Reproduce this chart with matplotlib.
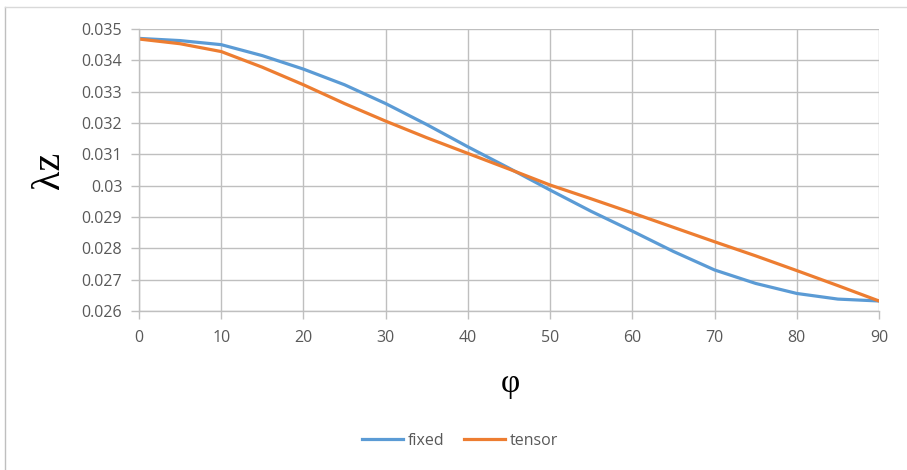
import matplotlib
matplotlib.use("Agg")
import matplotlib.pyplot as plt
from matplotlib.lines import Line2D

phi = [0, 5, 10, 15, 20, 25, 30, 35, 40, 45, 50, 55, 60, 65, 70, 75, 80, 85, 90]
fixed = [0.03470, 0.03463, 0.03450, 0.03415, 0.03372, 0.03322, 0.03262, 0.03195, 0.03124,
         0.03056, 0.02986, 0.02918, 0.02855, 0.02790, 0.02731, 0.02688, 0.02656, 0.02638, 0.02632]
tensor = [0.03468, 0.03453, 0.03428, 0.03378, 0.03322, 0.03262, 0.03206, 0.03153, 0.03103,
          0.03053, 0.03002, 0.02958, 0.02913, 0.02867, 0.02821, 0.02776, 0.02729, 0.02681, 0.02632]
xticks = [0, 10, 20, 30, 40, 50, 60, 70, 80, 90]
yticks = [0.026, 0.027, 0.028, 0.029, 0.03, 0.031, 0.032, 0.033, 0.034, 0.035]
ytick_labels = ["0.026", "0.027", "0.028", "0.029", "0.03", "0.031", "0.032", "0.033", "0.034", "0.035"]

fig = plt.figure(figsize=(9.07, 4.70), dpi=100)
ax = fig.add_axes([139/907, 1-311/470, (879-139)/907, (311-29)/470])

tick_font = dict(family=["Open Sans", "DejaVu Sans"], size=11.5, color="#595959")

ax.plot(phi, fixed, color="#5B9BD5", lw=2.3, label="fixed", solid_capstyle="round")
ax.plot(phi, tensor, color="#ED7D31", lw=2.3, label="tensor", solid_capstyle="round")

ax.set_xlim(0, 90)
ax.set_ylim(0.026, 0.035)
ax.set_xticks(xticks)
ax.set_xticklabels([str(v) for v in xticks], fontdict=tick_font)
ax.set_yticks(yticks)
ax.set_yticklabels(ytick_labels, fontdict=tick_font)
ax.grid(True, color="#BFBFBF", lw=1.0)
ax.set_axisbelow(True)
for s in ["top", "right"]:
    ax.spines[s].set_visible(False)
for s in ["left", "bottom"]:
    ax.spines[s].set_color("#BFBFBF")
    ax.spines[s].set_linewidth(1.0)
ax.tick_params(axis="both", color="#BFBFBF", length=6, width=1.0)
ax.tick_params(axis="x", pad=8)
ax.tick_params(axis="y", pad=6)

fig.text(50/907, 1-170/470, "λz", rotation=90, ha="center", va="center",
         family=["Liberation Serif", "DejaVu Serif"], size=29, color="#000000")
fig.text(510/907, 1-384/470, "φ", ha="center", va="center",
         family=["Liberation Serif", "DejaVu Serif"], size=24, color="#000000")

handles = [Line2D([], [], color="#5B9BD5", lw=2.3), Line2D([], [], color="#ED7D31", lw=2.3)]
fig.legend(handles, ["fixed", "tensor"], loc="center", bbox_to_anchor=(460/907, 1-441/470),
           ncol=2, frameon=False, handlelength=2.6, handletextpad=0.3, columnspacing=1.2,
           prop=dict(family=["Open Sans", "DejaVu Sans"], size=11.5))
for t in fig.legends[0].get_texts():
    t.set_color("#595959")

fig.add_artist(Line2D([5/907, 5/907], [0, 1-7/470], color="#BFBFBF", lw=1.0, transform=fig.transFigure))
fig.add_artist(Line2D([5/907, 1], [1-7/470, 1-7/470], color="#D9D9D9", lw=1.0, transform=fig.transFigure))

fig.savefig("out.png", dpi=100)
